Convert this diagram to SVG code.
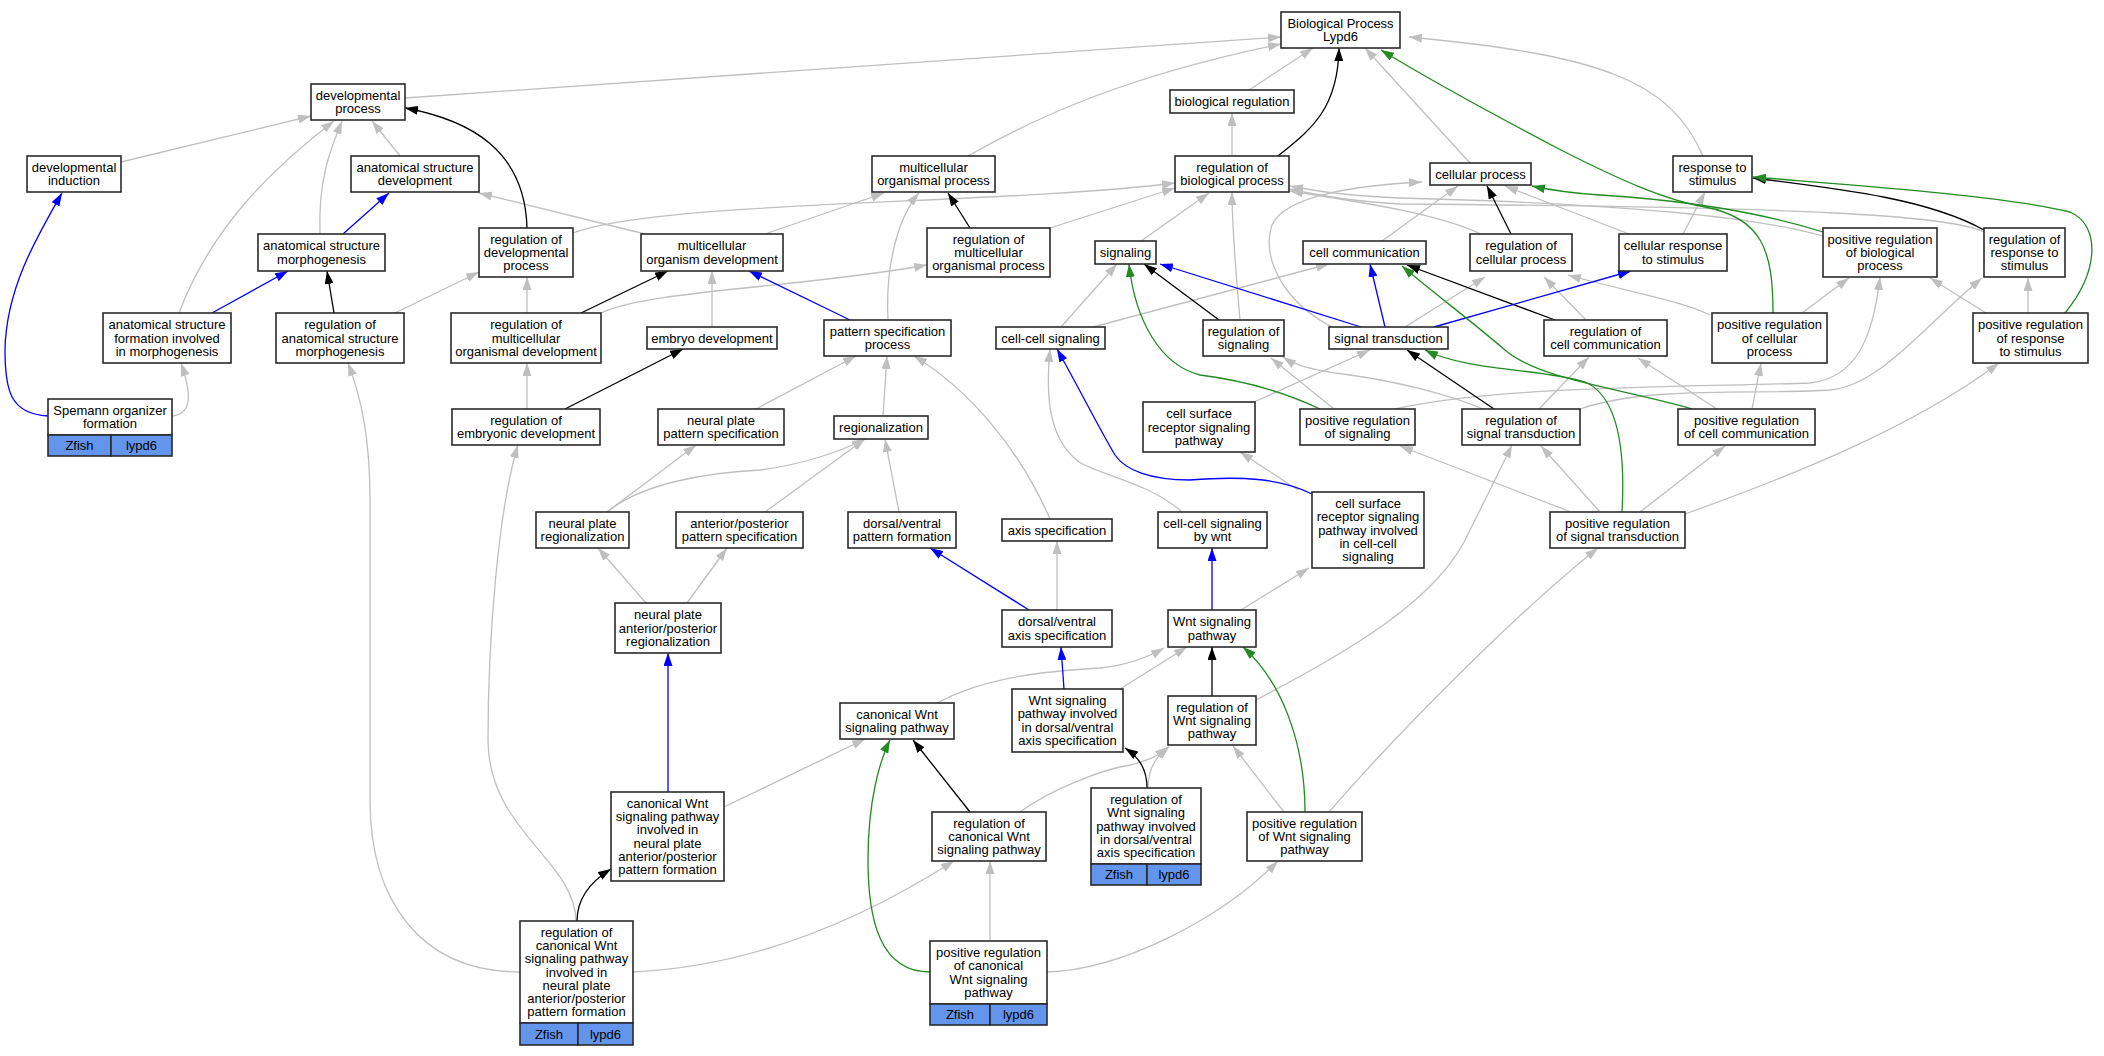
<svg xmlns="http://www.w3.org/2000/svg" width="2104" height="1056" viewBox="0 0 2104 1056">
<style>
.n rect{fill:#fff;stroke:#2a2a2a;stroke-width:1.6}
.n rect.c{fill:#6495ed}
.n text{font-family:"Liberation Sans",Arial,sans-serif;font-size:13px;fill:#000;text-anchor:middle}
.e path{fill:none;stroke-width:1.3}
.g{stroke:#bfbfbf}
.k{stroke:#000}
.b{stroke:#0000ff}
.v{stroke:#228b22}
</style>
<defs>
<marker id="mg" viewBox="0 0 13 9" refX="13" refY="4.5" markerWidth="13" markerHeight="9" markerUnits="userSpaceOnUse" orient="auto"><path d="M0,0 L13,4.5 L0,9 z" fill="#bfbfbf"/></marker>
<marker id="mk" viewBox="0 0 13 9" refX="13" refY="4.5" markerWidth="13" markerHeight="9" markerUnits="userSpaceOnUse" orient="auto"><path d="M0,0 L13,4.5 L0,9 z" fill="#000"/></marker>
<marker id="mb" viewBox="0 0 13 9" refX="13" refY="4.5" markerWidth="13" markerHeight="9" markerUnits="userSpaceOnUse" orient="auto"><path d="M0,0 L13,4.5 L0,9 z" fill="#0000ff"/></marker>
<marker id="mv" viewBox="0 0 13 9" refX="13" refY="4.5" markerWidth="13" markerHeight="9" markerUnits="userSpaceOnUse" orient="auto"><path d="M0,0 L13,4.5 L0,9 z" fill="#228b22"/></marker>
</defs>
<rect width="2104" height="1056" fill="#fff"/>
<g id="edges" class="e">
<path class="g" d="M405,98 L1281,37" marker-end="url(#mg)"/>
<path class="g" d="M968,156 C1040,115 1130,75 1281,44" marker-end="url(#mg)"/>
<path class="g" d="M1249,90 L1313,48" marker-end="url(#mg)"/>
<path class="g" d="M1470,163 L1365,48" marker-end="url(#mg)"/>
<path class="g" d="M1703,156 C1670,80 1600,55 1409,37" marker-end="url(#mg)"/>
<path class="g" d="M1232,156 L1232,113" marker-end="url(#mg)"/>
<path class="g" d="M121,162 L311,116" marker-end="url(#mg)"/>
<path class="g" d="M400,156 L372,121" marker-end="url(#mg)"/>
<path class="g" d="M320,234 C318,180 330,150 342,121" marker-end="url(#mg)"/>
<path class="g" d="M179,313 C210,230 270,170 334,121" marker-end="url(#mg)"/>
<path class="g" d="M645,234 L479,193" marker-end="url(#mg)"/>
<path class="g" d="M573,233 C660,200 1000,205 1175,183" marker-end="url(#mg)"/>
<path class="g" d="M601,313 C650,290 800,288 927,265" marker-end="url(#mg)"/>
<path class="g" d="M765,234 L884,193" marker-end="url(#mg)"/>
<path class="g" d="M888,320 C885,260 900,215 919,193" marker-end="url(#mg)"/>
<path class="g" d="M1050,228 L1175,188" marker-end="url(#mg)"/>
<path class="g" d="M712,327 L712,271" marker-end="url(#mg)"/>
<path class="g" d="M527,409 L527,363" marker-end="url(#mg)"/>
<path class="g" d="M527,313 L527,277" marker-end="url(#mg)"/>
<path class="g" d="M395,313 L479,272" marker-end="url(#mg)"/>
<path class="g" d="M172,416 C192,414 192,395 181,363" marker-end="url(#mg)"/>
<path class="g" d="M520,972 C420,972 370,900 370,800 L370,500 C370,440 362,400 348,363" marker-end="url(#mg)"/>
<path class="g" d="M576,921 C575,860 488,830 488,740 C488,640 498,510 518,445" marker-end="url(#mg)"/>
<path class="g" d="M633,972 C720,968 830,940 954,861" marker-end="url(#mg)"/>
<path class="g" d="M724,807 L865,739" marker-end="url(#mg)"/>
<path class="g" d="M646,603 L598,548" marker-end="url(#mg)"/>
<path class="g" d="M687,603 L727,548" marker-end="url(#mg)"/>
<path class="g" d="M607,512 L696,445" marker-end="url(#mg)"/>
<path class="g" d="M607,512 C640,485 700,473 760,470 C800,465 840,452 865,439" marker-end="url(#mg)"/>
<path class="g" d="M765,512 L865,439" marker-end="url(#mg)"/>
<path class="g" d="M899,512 L885,439" marker-end="url(#mg)"/>
<path class="g" d="M756,409 L856,356" marker-end="url(#mg)"/>
<path class="g" d="M883,416 L887,356" marker-end="url(#mg)"/>
<path class="g" d="M1050,519 C1020,450 970,390 914,356" marker-end="url(#mg)"/>
<path class="g" d="M1057,610 L1057,541" marker-end="url(#mg)"/>
<path class="g" d="M1120,689 L1187,647" marker-end="url(#mg)"/>
<path class="g" d="M937,703 C980,680 1030,672 1100,668 C1130,665 1150,656 1164,648" marker-end="url(#mg)"/>
<path class="g" d="M1182,512 C1150,483 1100,475 1079,462 C1050,440 1045,400 1050,349" marker-end="url(#mg)"/>
<path class="g" d="M1298,490 L1240,452" marker-end="url(#mg)"/>
<path class="g" d="M1241,610 L1309,568" marker-end="url(#mg)"/>
<path class="g" d="M1256,700 C1350,650 1440,600 1470,530 C1490,490 1500,470 1512,445" marker-end="url(#mg)"/>
<path class="g" d="M1329,812 C1400,730 1520,610 1598,548" marker-end="url(#mg)"/>
<path class="g" d="M1284,812 L1233,746" marker-end="url(#mg)"/>
<path class="g" d="M1020,812 C1050,790 1100,770 1130,765 C1150,760 1160,755 1169,747" marker-end="url(#mg)"/>
<path class="g" d="M1148,788 C1148,770 1155,757 1168,747" marker-end="url(#mg)"/>
<path class="g" d="M990,941 L990,861" marker-end="url(#mg)"/>
<path class="g" d="M1047,972 C1120,970 1220,920 1278,861" marker-end="url(#mg)"/>
<path class="g" d="M1629,234 L1505,186" marker-end="url(#mg)"/>
<path class="g" d="M1683,234 L1705,192" marker-end="url(#mg)"/>
<path class="g" d="M1382,241 L1458,186" marker-end="url(#mg)"/>
<path class="g" d="M1332,327 C1280,300 1262,255 1272,225 C1285,195 1360,185 1422,182" marker-end="url(#mg)"/>
<path class="g" d="M2028,313 L2028,278" marker-end="url(#mg)"/>
<path class="g" d="M1986,313 L1930,278" marker-end="url(#mg)"/>
<path class="g" d="M1802,313 L1849,278" marker-end="url(#mg)"/>
<path class="g" d="M1823,236 C1750,215 1600,203 1400,198 C1350,196 1320,192 1290,186" marker-end="url(#mg)"/>
<path class="g" d="M1984,232 C1950,215 1800,207 1400,204 C1350,201 1320,196 1290,189" marker-end="url(#mg)"/>
<path class="g" d="M1481,234 C1440,215 1380,205 1290,191" marker-end="url(#mg)"/>
<path class="g" d="M1405,327 L1485,277" marker-end="url(#mg)"/>
<path class="g" d="M1586,320 L1544,277" marker-end="url(#mg)"/>
<path class="g" d="M1710,315 C1680,300 1620,290 1568,275" marker-end="url(#mg)"/>
<path class="g" d="M1061,327 L1117,264" marker-end="url(#mg)"/>
<path class="g" d="M1093,327 L1329,264" marker-end="url(#mg)"/>
<path class="g" d="M1240,320 C1235,260 1232,230 1232,192" marker-end="url(#mg)"/>
<path class="g" d="M1141,241 L1209,193" marker-end="url(#mg)"/>
<path class="g" d="M1334,409 L1271,358" marker-end="url(#mg)"/>
<path class="g" d="M1483,409 C1450,395 1400,382 1350,375 C1310,370 1295,365 1283,357" marker-end="url(#mg)"/>
<path class="g" d="M1539,409 L1589,357" marker-end="url(#mg)"/>
<path class="g" d="M1580,409 C1650,385 1760,395 1830,390 C1880,385 1920,330 1982,278" marker-end="url(#mg)"/>
<path class="g" d="M1395,409 C1500,385 1700,387 1810,383 C1855,378 1873,340 1880,277" marker-end="url(#mg)"/>
<path class="g" d="M1717,409 L1638,358" marker-end="url(#mg)"/>
<path class="g" d="M1752,409 L1761,363" marker-end="url(#mg)"/>
<path class="g" d="M1600,512 L1541,446" marker-end="url(#mg)"/>
<path class="g" d="M1640,512 L1725,446" marker-end="url(#mg)"/>
<path class="g" d="M1571,512 L1400,446" marker-end="url(#mg)"/>
<path class="g" d="M1685,514 C1780,480 1910,430 1999,363" marker-end="url(#mg)"/>
<path class="g" d="M1254,402 L1370,350" marker-end="url(#mg)"/>
<path class="k" d="M1278,156 C1310,130 1338,110 1339,48" marker-end="url(#mk)"/>
<path class="k" d="M527,228 C525,150 470,120 405,108" marker-end="url(#mk)"/>
<path class="k" d="M334,313 L327,271" marker-end="url(#mk)"/>
<path class="k" d="M970,228 L948,193" marker-end="url(#mk)"/>
<path class="k" d="M565,409 L683,349" marker-end="url(#mk)"/>
<path class="k" d="M581,313 L668,271" marker-end="url(#mk)"/>
<path class="k" d="M577,921 C577,900 590,882 611,869" marker-end="url(#mk)"/>
<path class="k" d="M1212,696 L1212,647" marker-end="url(#mk)"/>
<path class="k" d="M970,812 L913,740" marker-end="url(#mk)"/>
<path class="k" d="M1147,788 C1147,770 1140,758 1125,748" marker-end="url(#mk)"/>
<path class="k" d="M1511,234 L1487,186" marker-end="url(#mk)"/>
<path class="k" d="M1984,230 C1930,200 1850,190 1753,178" marker-end="url(#mk)"/>
<path class="k" d="M1555,320 L1407,265" marker-end="url(#mk)"/>
<path class="k" d="M1219,320 L1144,264" marker-end="url(#mk)"/>
<path class="k" d="M1494,409 L1407,350" marker-end="url(#mk)"/>
<path class="b" d="M343,234 L389,193" marker-end="url(#mb)"/>
<path class="b" d="M212,313 L288,271" marker-end="url(#mb)"/>
<path class="b" d="M850,320 L749,271" marker-end="url(#mb)"/>
<path class="b" d="M48,416 C10,414 5,390 5,350 C6,290 35,240 62,193" marker-end="url(#mb)"/>
<path class="b" d="M668,792 L668,653" marker-end="url(#mb)"/>
<path class="b" d="M1029,610 L930,548" marker-end="url(#mb)"/>
<path class="b" d="M1064,689 L1061,647" marker-end="url(#mb)"/>
<path class="b" d="M1312,494 C1280,478 1240,476 1190,480 C1150,480 1125,470 1115,455 C1100,430 1080,390 1057,349" marker-end="url(#mb)"/>
<path class="b" d="M1212,610 L1212,548" marker-end="url(#mb)"/>
<path class="b" d="M1385,327 L1370,264" marker-end="url(#mb)"/>
<path class="b" d="M1361,327 L1160,264" marker-end="url(#mb)"/>
<path class="b" d="M1434,327 L1631,271" marker-end="url(#mb)"/>
<path class="v" d="M1773,313 C1773,250 1762,218 1705,207 C1665,200 1620,180 1561,150 C1500,118 1430,80 1381,50" marker-end="url(#mv)"/>
<path class="v" d="M1823,232 C1760,212 1680,200 1600,195 C1570,193 1550,190 1532,186" marker-end="url(#mv)"/>
<path class="v" d="M1305,812 C1305,740 1280,680 1243,647" marker-end="url(#mv)"/>
<path class="v" d="M930,972 C880,972 868,920 868,860 C868,800 880,760 890,740" marker-end="url(#mv)"/>
<path class="v" d="M2065,313 C2100,270 2100,225 2070,212 C2000,195 1850,185 1753,177" marker-end="url(#mv)"/>
<path class="v" d="M1320,409 C1280,390 1240,380 1200,375 C1160,365 1135,320 1129,264" marker-end="url(#mv)"/>
<path class="v" d="M1692,409 C1620,388 1540,380 1505,350 C1470,320 1430,290 1402,266" marker-end="url(#mv)"/>
<path class="v" d="M1622,512 C1626,440 1615,395 1585,382 C1540,368 1470,372 1425,350" marker-end="url(#mv)"/>
</g>
<g id="nodes" class="n">
<g id="n1"><rect x="1281" y="12" width="119" height="36"/><text x="1340.5" y="27.9">Biological Process<tspan x="1340.5" dy="13.3">Lypd6</tspan></text></g>
<g id="n2"><rect x="311" y="84" width="94" height="36"/><text x="358" y="99.9">developmental<tspan x="358" dy="13.3">process</tspan></text></g>
<g id="n3"><rect x="1170" y="90" width="124" height="23"/><text x="1232" y="106">biological regulation</text></g>
<g id="n4"><rect x="27" y="156" width="94" height="36"/><text x="74" y="171.9">developmental<tspan x="74" dy="13.3">induction</tspan></text></g>
<g id="n5"><rect x="351" y="156" width="128" height="36"/><text x="415" y="171.9">anatomical structure<tspan x="415" dy="13.3">development</tspan></text></g>
<g id="n6"><rect x="872" y="156" width="123" height="36"/><text x="933.5" y="171.9">multicellular<tspan x="933.5" dy="13.3">organismal process</tspan></text></g>
<g id="n7"><rect x="1175" y="156" width="114" height="36"/><text x="1232" y="171.9">regulation of<tspan x="1232" dy="13.3">biological process</tspan></text></g>
<g id="n8"><rect x="1430" y="163" width="101" height="22"/><text x="1480.5" y="178.5">cellular process</text></g>
<g id="n9"><rect x="1673" y="156" width="79" height="36"/><text x="1712.5" y="171.9">response to<tspan x="1712.5" dy="13.3">stimulus</tspan></text></g>
<g id="n10"><rect x="258" y="234" width="127" height="37"/><text x="321.5" y="250.4">anatomical structure<tspan x="321.5" dy="13.3">morphogenesis</tspan></text></g>
<g id="n11"><rect x="479" y="228" width="94" height="49"/><text x="526" y="243.7">regulation of<tspan x="526" dy="13.3">developmental</tspan><tspan x="526" dy="13.3">process</tspan></text></g>
<g id="n12"><rect x="641" y="234" width="142" height="37"/><text x="712" y="250.4">multicellular<tspan x="712" dy="13.3">organism development</tspan></text></g>
<g id="n13"><rect x="927" y="228" width="123" height="49"/><text x="988.5" y="243.7">regulation of<tspan x="988.5" dy="13.3">multicellular</tspan><tspan x="988.5" dy="13.3">organismal process</tspan></text></g>
<g id="n14"><rect x="1095" y="241" width="61" height="23"/><text x="1125.5" y="257">signaling</text></g>
<g id="n15"><rect x="1303" y="241" width="123" height="23"/><text x="1364.5" y="257">cell communication</text></g>
<g id="n16"><rect x="1470" y="234" width="102" height="37"/><text x="1521" y="250.4">regulation of<tspan x="1521" dy="13.3">cellular process</tspan></text></g>
<g id="n17"><rect x="1619" y="234" width="108" height="37"/><text x="1673" y="250.4">cellular response<tspan x="1673" dy="13.3">to stimulus</tspan></text></g>
<g id="n18"><rect x="1823" y="228" width="114" height="49"/><text x="1880" y="243.7">positive regulation<tspan x="1880" dy="13.3">of biological</tspan><tspan x="1880" dy="13.3">process</tspan></text></g>
<g id="n19"><rect x="1984" y="228" width="81" height="49"/><text x="2024.5" y="243.7">regulation of<tspan x="2024.5" dy="13.3">response to</tspan><tspan x="2024.5" dy="13.3">stimulus</tspan></text></g>
<g id="n20"><rect x="103" y="313" width="128" height="50"/><text x="167" y="329.2">anatomical structure<tspan x="167" dy="13.3">formation involved</tspan><tspan x="167" dy="13.3">in morphogenesis</tspan></text></g>
<g id="n21"><rect x="276" y="313" width="128" height="50"/><text x="340" y="329.2">regulation of<tspan x="340" dy="13.3">anatomical structure</tspan><tspan x="340" dy="13.3">morphogenesis</tspan></text></g>
<g id="n22"><rect x="451" y="313" width="150" height="50"/><text x="526" y="329.2">regulation of<tspan x="526" dy="13.3">multicellular</tspan><tspan x="526" dy="13.3">organismal development</tspan></text></g>
<g id="n23"><rect x="647" y="327" width="130" height="22"/><text x="712" y="342.5">embryo development</text></g>
<g id="n24"><rect x="824" y="320" width="127" height="36"/><text x="887.5" y="335.9">pattern specification<tspan x="887.5" dy="13.3">process</tspan></text></g>
<g id="n25"><rect x="996" y="327" width="109" height="22"/><text x="1050.5" y="342.5">cell-cell signaling</text></g>
<g id="n26"><rect x="1203" y="320" width="81" height="36"/><text x="1243.5" y="335.9">regulation of<tspan x="1243.5" dy="13.3">signaling</tspan></text></g>
<g id="n27"><rect x="1329" y="327" width="119" height="22"/><text x="1388.5" y="342.5">signal transduction</text></g>
<g id="n28"><rect x="1544" y="320" width="123" height="36"/><text x="1605.5" y="335.9">regulation of<tspan x="1605.5" dy="13.3">cell communication</tspan></text></g>
<g id="n29"><rect x="1712" y="313" width="115" height="50"/><text x="1769.5" y="329.2">positive regulation<tspan x="1769.5" dy="13.3">of cellular</tspan><tspan x="1769.5" dy="13.3">process</tspan></text></g>
<g id="n30"><rect x="1973" y="313" width="115" height="50"/><text x="2030.5" y="329.2">positive regulation<tspan x="2030.5" dy="13.3">of response</tspan><tspan x="2030.5" dy="13.3">to stimulus</tspan></text></g>
<g id="n31"><rect x="48" y="399" width="124" height="36"/><text x="110" y="414.9">Spemann organizer<tspan x="110" dy="13.3">formation</tspan></text><rect class="c" x="48" y="435" width="63" height="21"/><rect class="c" x="111" y="435" width="61" height="21"/><text x="79.5" y="450">Zfish</text><text x="141.5" y="450">lypd6</text></g>
<g id="n32"><rect x="452" y="409" width="148" height="36"/><text x="526" y="424.9">regulation of<tspan x="526" dy="13.3">embryonic development</tspan></text></g>
<g id="n33"><rect x="658" y="409" width="126" height="36"/><text x="721" y="424.9">neural plate<tspan x="721" dy="13.3">pattern specification</tspan></text></g>
<g id="n34"><rect x="834" y="416" width="94" height="23"/><text x="881" y="432">regionalization</text></g>
<g id="n35"><rect x="1143" y="402" width="112" height="50"/><text x="1199" y="418.2">cell surface<tspan x="1199" dy="13.3">receptor signaling</tspan><tspan x="1199" dy="13.3">pathway</tspan></text></g>
<g id="n36"><rect x="1300" y="409" width="115" height="36"/><text x="1357.5" y="424.9">positive regulation<tspan x="1357.5" dy="13.3">of signaling</tspan></text></g>
<g id="n37"><rect x="1462" y="409" width="118" height="36"/><text x="1521" y="424.9">regulation of<tspan x="1521" dy="13.3">signal transduction</tspan></text></g>
<g id="n38"><rect x="1678" y="409" width="137" height="36"/><text x="1746.5" y="424.9">positive regulation<tspan x="1746.5" dy="13.3">of cell communication</tspan></text></g>
<g id="n39"><rect x="536" y="512" width="93" height="36"/><text x="582.5" y="527.9">neural plate<tspan x="582.5" dy="13.3">regionalization</tspan></text></g>
<g id="n40"><rect x="676" y="512" width="127" height="36"/><text x="739.5" y="527.9">anterior/posterior<tspan x="739.5" dy="13.3">pattern specification</tspan></text></g>
<g id="n41"><rect x="848" y="512" width="108" height="36"/><text x="902" y="527.9">dorsal/ventral<tspan x="902" dy="13.3">pattern formation</tspan></text></g>
<g id="n42"><rect x="1002" y="519" width="110" height="22"/><text x="1057" y="534.5">axis specification</text></g>
<g id="n43"><rect x="1158" y="512" width="109" height="36"/><text x="1212.5" y="527.9">cell-cell signaling<tspan x="1212.5" dy="13.3">by wnt</tspan></text></g>
<g id="n44"><rect x="1312" y="492" width="112" height="76"/><text x="1368" y="507.9">cell surface<tspan x="1368" dy="13.3">receptor signaling</tspan><tspan x="1368" dy="13.3">pathway involved</tspan><tspan x="1368" dy="13.3">in cell-cell</tspan><tspan x="1368" dy="13.3">signaling</tspan></text></g>
<g id="n45"><rect x="1550" y="512" width="135" height="36"/><text x="1617.5" y="527.9">positive regulation<tspan x="1617.5" dy="13.3">of signal transduction</tspan></text></g>
<g id="n46"><rect x="615" y="603" width="106" height="50"/><text x="668" y="619.2">neural plate<tspan x="668" dy="13.3">anterior/posterior</tspan><tspan x="668" dy="13.3">regionalization</tspan></text></g>
<g id="n47"><rect x="1002" y="610" width="110" height="37"/><text x="1057" y="626.4">dorsal/ventral<tspan x="1057" dy="13.3">axis specification</tspan></text></g>
<g id="n48"><rect x="1168" y="610" width="88" height="37"/><text x="1212" y="626.4">Wnt signaling<tspan x="1212" dy="13.3">pathway</tspan></text></g>
<g id="n49"><rect x="840" y="703" width="114" height="36"/><text x="897" y="718.9">canonical Wnt<tspan x="897" dy="13.3">signaling pathway</tspan></text></g>
<g id="n50"><rect x="1012" y="689" width="111" height="63"/><text x="1067.5" y="705.1">Wnt signaling<tspan x="1067.5" dy="13.3">pathway involved</tspan><tspan x="1067.5" dy="13.3">in dorsal/ventral</tspan><tspan x="1067.5" dy="13.3">axis specification</tspan></text></g>
<g id="n51"><rect x="1168" y="696" width="88" height="49"/><text x="1212" y="711.7">regulation of<tspan x="1212" dy="13.3">Wnt signaling</tspan><tspan x="1212" dy="13.3">pathway</tspan></text></g>
<g id="n52"><rect x="611" y="792" width="113" height="89"/><text x="667.5" y="807.8">canonical Wnt<tspan x="667.5" dy="13.3">signaling pathway</tspan><tspan x="667.5" dy="13.3">involved in</tspan><tspan x="667.5" dy="13.3">neural plate</tspan><tspan x="667.5" dy="13.3">anterior/posterior</tspan><tspan x="667.5" dy="13.3">pattern formation</tspan></text></g>
<g id="n53"><rect x="932" y="812" width="114" height="49"/><text x="989" y="827.7">regulation of<tspan x="989" dy="13.3">canonical Wnt</tspan><tspan x="989" dy="13.3">signaling pathway</tspan></text></g>
<g id="n54"><rect x="1091" y="788" width="110" height="76"/><text x="1146" y="803.9">regulation of<tspan x="1146" dy="13.3">Wnt signaling</tspan><tspan x="1146" dy="13.3">pathway involved</tspan><tspan x="1146" dy="13.3">in dorsal/ventral</tspan><tspan x="1146" dy="13.3">axis specification</tspan></text><rect class="c" x="1091" y="864" width="56" height="21"/><rect class="c" x="1147" y="864" width="54" height="21"/><text x="1119" y="879">Zfish</text><text x="1174" y="879">lypd6</text></g>
<g id="n55"><rect x="1247" y="812" width="115" height="49"/><text x="1304.5" y="827.7">positive regulation<tspan x="1304.5" dy="13.3">of Wnt signaling</tspan><tspan x="1304.5" dy="13.3">pathway</tspan></text></g>
<g id="n56"><rect x="520" y="921" width="113" height="102"/><text x="576.5" y="936.6">regulation of<tspan x="576.5" dy="13.3">canonical Wnt</tspan><tspan x="576.5" dy="13.3">signaling pathway</tspan><tspan x="576.5" dy="13.3">involved in</tspan><tspan x="576.5" dy="13.3">neural plate</tspan><tspan x="576.5" dy="13.3">anterior/posterior</tspan><tspan x="576.5" dy="13.3">pattern formation</tspan></text><rect class="c" x="520" y="1023" width="58" height="22"/><rect class="c" x="578" y="1023" width="55" height="22"/><text x="549" y="1038.5">Zfish</text><text x="605.5" y="1038.5">lypd6</text></g>
<g id="n57"><rect x="930" y="941" width="117" height="63"/><text x="988.5" y="957.1">positive regulation<tspan x="988.5" dy="13.3">of canonical</tspan><tspan x="988.5" dy="13.3">Wnt signaling</tspan><tspan x="988.5" dy="13.3">pathway</tspan></text><rect class="c" x="930" y="1004" width="60" height="21"/><rect class="c" x="990" y="1004" width="57" height="21"/><text x="960" y="1019">Zfish</text><text x="1018.5" y="1019">lypd6</text></g>
</g>
</svg>
